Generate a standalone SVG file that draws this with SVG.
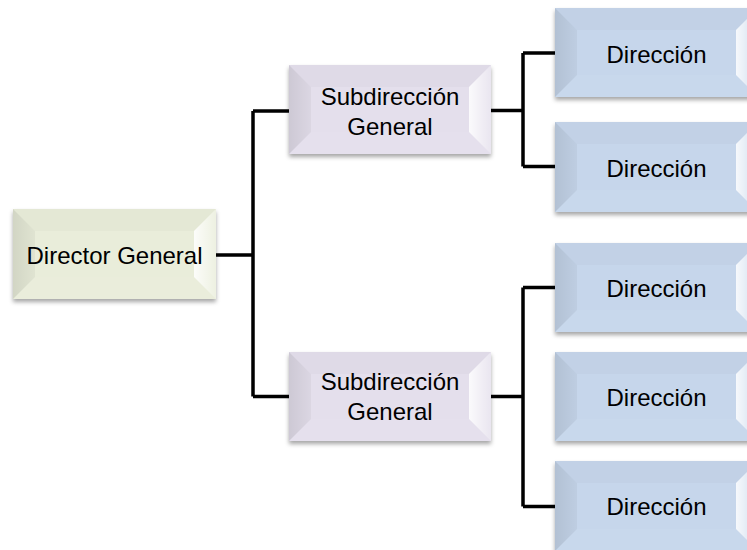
<svg xmlns="http://www.w3.org/2000/svg" width="747" height="550" viewBox="0 0 747 550">
  <defs>
    <filter id="shadow" x="-10%" y="-10%" width="120%" height="130%">
      <feDropShadow dx="0" dy="3" stdDeviation="2" flood-color="#000" flood-opacity="0.35"/>
    </filter>
    <linearGradient id="gRight" x1="0" y1="0" x2="1" y2="0">
      <stop offset="0" stop-color="#fff" stop-opacity="0.85"/>
      <stop offset="1" stop-color="#fff" stop-opacity="0.2"/>
    </linearGradient>
    <linearGradient id="gLeft" x1="0" y1="0" x2="1" y2="0">
      <stop offset="0" stop-color="#000" stop-opacity="0.10"/>
      <stop offset="1" stop-color="#000" stop-opacity="0.04"/>
    </linearGradient>
    <style>
      .conn { fill: none; stroke: #000; stroke-width: 3.5; }
      .green { fill: #E9EDDA; }
      .lav { fill: #E4DFEC; }
      .blue { fill: #C6D6EB; }
      .base { filter: url(#shadow); }
      .top { fill: #000; fill-opacity: 0.02; }
      .left { fill: url(#gLeft); }
      .bottom { fill: #fff; fill-opacity: 0.05; }
      .right { fill: url(#gRight); }
      .lbl { font-family: "Liberation Sans", Arial, sans-serif; font-size: 24px; fill: #000; text-anchor: middle; }
    </style>
  </defs>
  <rect width="747" height="550" fill="#fff"/>

  <g id="connectors">
    <path class="conn" d="M216,255 H253 M253,111 V396.5 M253,111 H289 M253,396.5 H289"/>
    <path class="conn" d="M491,110.5 H523 M523,53 V166.5 M523,53 H555 M523,166.5 H555"/>
    <path class="conn" d="M491,396.5 H523 M523,287.5 V506.5 M523,287.5 H555 M523,506.5 H555"/>
  </g>

  <g id="director" transform="translate(13,209)">
    <rect class="base green" width="203" height="90"/>
    <polygon class="top" points="0,0 203,0 181,22 22,22"/>
    <polygon class="left" points="0,0 22,22 22,68 0,90"/>
    <polygon class="bottom" points="0,90 22,68 181,68 203,90"/>
    <polygon class="right" points="203,0 203,90 181,68 181,22"/>
    <text class="lbl" x="101.5" y="55">Director General</text>
  </g>

  <g id="sub1" transform="translate(289,65)">
    <rect class="base lav" width="202" height="89"/>
    <polygon class="top" points="0,0 202,0 180,22 22,22"/>
    <polygon class="left" points="0,0 22,22 22,67 0,89"/>
    <polygon class="bottom" points="0,89 22,67 180,67 202,89"/>
    <polygon class="right" points="202,0 202,89 180,67 180,22"/>
    <text class="lbl" x="101" y="40">Subdirección</text>
    <text class="lbl" x="101" y="70">General</text>
  </g>

  <g id="sub2" transform="translate(289,352)">
    <rect class="base lav" width="202" height="89"/>
    <polygon class="top" points="0,0 202,0 180,22 22,22"/>
    <polygon class="left" points="0,0 22,22 22,67 0,89"/>
    <polygon class="bottom" points="0,89 22,67 180,67 202,89"/>
    <polygon class="right" points="202,0 202,89 180,67 180,22"/>
    <text class="lbl" x="101" y="38">Subdirección</text>
    <text class="lbl" x="101" y="68">General</text>
  </g>

  <g id="dir1" transform="translate(555,8)">
    <rect class="base blue" width="203" height="89"/>
    <polygon class="top" points="0,0 203,0 181,22 22,22"/>
    <polygon class="left" points="0,0 22,22 22,67 0,89"/>
    <polygon class="bottom" points="0,89 22,67 181,67 203,89"/>
    <polygon class="right" points="203,0 203,89 181,67 181,22"/>
    <text class="lbl" x="101.5" y="54.5">Dirección</text>
  </g>

  <g id="dir2" transform="translate(555,122)">
    <rect class="base blue" width="203" height="90"/>
    <polygon class="top" points="0,0 203,0 181,22 22,22"/>
    <polygon class="left" points="0,0 22,22 22,68 0,90"/>
    <polygon class="bottom" points="0,90 22,68 181,68 203,90"/>
    <polygon class="right" points="203,0 203,90 181,68 181,22"/>
    <text class="lbl" x="101.5" y="54.5">Dirección</text>
  </g>

  <g id="dir3" transform="translate(555,243)">
    <rect class="base blue" width="203" height="89"/>
    <polygon class="top" points="0,0 203,0 181,22 22,22"/>
    <polygon class="left" points="0,0 22,22 22,67 0,89"/>
    <polygon class="bottom" points="0,89 22,67 181,67 203,89"/>
    <polygon class="right" points="203,0 203,89 181,67 181,22"/>
    <text class="lbl" x="101.5" y="54">Dirección</text>
  </g>

  <g id="dir4" transform="translate(555,352)">
    <rect class="base blue" width="203" height="89"/>
    <polygon class="top" points="0,0 203,0 181,22 22,22"/>
    <polygon class="left" points="0,0 22,22 22,67 0,89"/>
    <polygon class="bottom" points="0,89 22,67 181,67 203,89"/>
    <polygon class="right" points="203,0 203,89 181,67 181,22"/>
    <text class="lbl" x="101.5" y="54">Dirección</text>
  </g>

  <g id="dir5" transform="translate(555,461)">
    <rect class="base blue" width="203" height="90"/>
    <polygon class="top" points="0,0 203,0 181,22 22,22"/>
    <polygon class="left" points="0,0 22,22 22,68 0,90"/>
    <polygon class="bottom" points="0,90 22,68 181,68 203,90"/>
    <polygon class="right" points="203,0 203,90 181,68 181,22"/>
    <text class="lbl" x="101.5" y="54">Dirección</text>
  </g>
</svg>
